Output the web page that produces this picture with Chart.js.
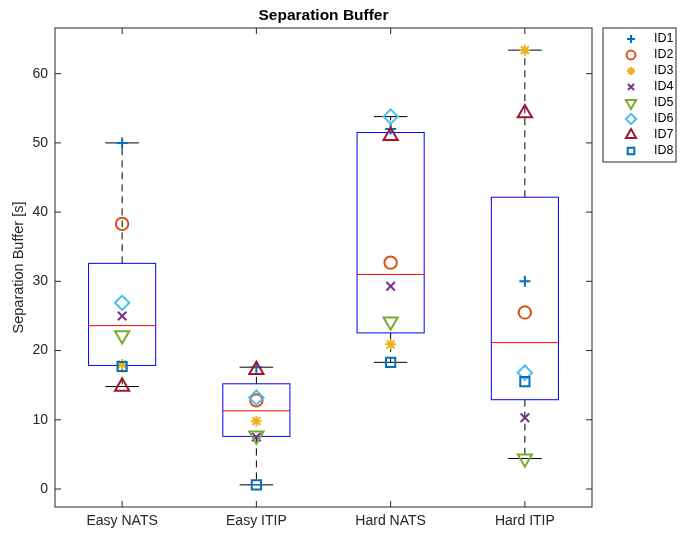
<!DOCTYPE html>
<html>
<head>
<meta charset="utf-8">
<script src="https://cdn.jsdelivr.net/npm/chart.js@4.4.0/dist/chart.umd.min.js"></script>
<style>
  body { margin: 0; background: #fff; }
  #wrap { width: 682px; height: 536px; }
</style>
</head>
<body>
<div id="wrap"><canvas id="chart" width="682" height="536"></canvas></div>
<script>
// --- data ---
const categories = ['Easy NATS', 'Easy ITIP', 'Hard NATS', 'Hard ITIP'];
const id1 = [50.0, 17.6, 52.0, 30.0];
const id2 = [38.3, 12.8, 32.7, 25.5];
const id3 = [18.0, 9.8, 20.9, 63.4];
const id4 = [25.0, 7.5, 29.3, 10.3];
const id5 = [22.2, 7.7, 24.2, 4.4];
const id6 = [26.9, 13.2, 53.8, 16.8];
const id7 = [14.8, 17.2, 51.0, 54.3];
const id8 = [17.7, 0.6, 18.3, 15.5];
const yTicks = [0, 10, 20, 30, 40, 50, 60];
const yMin = -2.6, yMax = 66.6;

const idNames = ['ID1', 'ID2', 'ID3', 'ID4', 'ID5', 'ID6', 'ID7', 'ID8'];
const idValues = [id1, id2, id3, id4, id5, id6, id7, id8];
const idColors = ['#0072BD', '#D95319', '#EDB120', '#7E2F8E', '#77AC30', '#4DBEEE', '#A2142F', '#0072BD'];
const idStyles = ['cross', 'circle', 'star', 'crossRot', 'triangle', 'rectRot', 'triangle', 'rect'];
const idRotation = [0, 0, 0, 0, 180, 0, 0, 0];
const idRadius = [5.5, 6.2, 5.5, 6, 8.2, 7.2, 8.2, 6.5];

const FONT = "'Liberation Sans', Arial, Helvetica, sans-serif";
const AXIS_COLOR = '#262626';

// MATLAB style percentile (prctile)
function prctile(sorted, p) {
    const n = sorted.length;
    const pos = p / 100 * n + 0.5;
    if (pos <= 1) return sorted[0];
    if (pos >= n) return sorted[n - 1];
    const lo = Math.floor(pos);
    return sorted[lo - 1] + (pos - lo) * (sorted[lo] - sorted[lo - 1]);
}

function boxStats(vals) {
    const s = vals.slice().sort((a, b) => a - b);
    const q1 = prctile(s, 25), med = prctile(s, 50), q3 = prctile(s, 75);
    const iqr = q3 - q1;
    const inside = s.filter(v => v >= q1 - 1.5 * iqr && v <= q3 + 1.5 * iqr);
    return { q1, med, q3, lo: inside[0], hi: inside[inside.length - 1],
             out: s.filter(v => !inside.includes(v)) };
}

function seg(ctx, x1, y1, x2, y2) {
    ctx.beginPath();
    ctx.moveTo(x1, y1);
    ctx.lineTo(x2, y2);
    ctx.stroke();
}

// box + whiskers, under the markers
const boxPlot = {
    id: 'boxPlot',
    beforeDatasetsDraw(chart) {
        const { ctx, scales: { x, y } } = chart;
        ctx.save();
        ctx.lineWidth = 1;
        categories.forEach((c, i) => {
            const st = boxStats(idValues.map(a => a[i]));
            const cx = x.getPixelForValue(i + 1);
            const hw = x.getPixelForValue(i + 1.25) - cx;
            const cw = hw / 2;
            // whiskers
            ctx.strokeStyle = '#000';
            ctx.setLineDash([7, 5]);
            seg(ctx, cx, y.getPixelForValue(st.q3), cx, y.getPixelForValue(st.hi));
            seg(ctx, cx, y.getPixelForValue(st.q1), cx, y.getPixelForValue(st.lo));
            ctx.setLineDash([]);
            seg(ctx, cx - cw, y.getPixelForValue(st.hi), cx + cw, y.getPixelForValue(st.hi));
            seg(ctx, cx - cw, y.getPixelForValue(st.lo), cx + cw, y.getPixelForValue(st.lo));
            // box
            ctx.strokeStyle = '#0000FF';
            const top = y.getPixelForValue(st.q3), bot = y.getPixelForValue(st.q1);
            ctx.strokeRect(cx - hw, top, 2 * hw, bot - top);
            // median
            ctx.strokeStyle = '#FF0000';
            seg(ctx, cx - hw, y.getPixelForValue(st.med), cx + hw, y.getPixelForValue(st.med));
            // outliers
            st.out.forEach(v => {
                const py = y.getPixelForValue(v);
                seg(ctx, cx - 4, py, cx + 4, py);
                seg(ctx, cx, py - 4, cx, py + 4);
            });
        });
        ctx.restore();
    }
};

// axes box with inward ticks, and the legend box
const frame = {
    id: 'frame',
    afterDraw(chart) {
        const { ctx, chartArea: a, scales: { x, y } } = chart;
        ctx.save();
        ctx.strokeStyle = AXIS_COLOR;
        ctx.lineWidth = 1;
        ctx.strokeRect(a.left, a.top, a.right - a.left, a.bottom - a.top);
        const tl = 6;
        yTicks.forEach(v => {
            const py = y.getPixelForValue(v);
            seg(ctx, a.left, py, a.left + tl, py);
            seg(ctx, a.right, py, a.right - tl, py);
        });
        categories.forEach((c, i) => {
            const px = x.getPixelForValue(i + 1);
            seg(ctx, px, a.bottom, px, a.bottom - tl);
            seg(ctx, px, a.top, px, a.top + tl);
        });

        // legend
        const left = a.right + 11, top = a.top, w = 73, rowH = 16;
        const h = idNames.length * rowH + 6;
        ctx.fillStyle = '#fff';
        ctx.fillRect(left, top, w, h);
        ctx.strokeStyle = AXIS_COLOR;
        ctx.strokeRect(left, top, w, h);
        ctx.font = '12.5px ' + FONT;
        ctx.textBaseline = 'middle';
        ctx.textAlign = 'left';
        idNames.forEach((name, i) => {
            const ry = top + 11 + i * rowH;
            ctx.strokeStyle = idColors[i];
            ctx.fillStyle = 'rgba(0,0,0,0)';
            ctx.lineWidth = 2;
            Chart.helpers.drawPoint(ctx, {
                pointStyle: idStyles[i], rotation: idRotation[i],
                radius: idRadius[i] * 0.72, borderWidth: 2
            }, left + 28, ry);
            ctx.fillStyle = '#000';
            ctx.fillText(name, left + 51, ry);
        });
        ctx.restore();
    }
};

const datasets = idNames.map((name, k) => ({
    label: name,
    data: idValues[k].map((v, i) => ({ x: i + 1, y: v })),
    pointStyle: idStyles[k],
    pointRotation: idRotation[k],
    pointRadius: idRadius[k],
    pointBorderWidth: 2,
    borderColor: idColors[k],
    backgroundColor: 'rgba(0,0,0,0)',
    order: idNames.length - k
}));

new Chart(document.getElementById('chart'), {
    type: 'scatter',
    data: { datasets },
    options: {
        responsive: false,
        animation: false,
        events: [],
        layout: { padding: { left: 0, right: 90, top: 0, bottom: 0 } },
        plugins: {
            legend: { display: false },
            tooltip: { enabled: false },
            title: {
                display: true, text: 'Separation Buffer', fullSize: false, color: '#000',
                font: { family: FONT, size: 15.5, weight: 'bold' },
                padding: { top: 6, bottom: 3.4 }
            }
        },
        scales: {
            x: {
                type: 'linear', min: 0.5, max: 4.5,
                grid: { display: false, drawTicks: false },
                border: { display: false },
                afterBuildTicks: s => { s.ticks = categories.map((c, i) => ({ value: i + 1 })); },
                afterFit: s => { s.height = 29; },
                ticks: {
                    callback: v => categories[Math.round(v) - 1] || '',
                    autoSkip: false, maxRotation: 0, padding: 6,
                    color: AXIS_COLOR, font: { family: FONT, size: 14 }
                }
            },
            y: {
                min: yMin, max: yMax,
                grid: { display: false, drawTicks: false },
                border: { display: false },
                afterBuildTicks: s => { s.ticks = yTicks.map(v => ({ value: v })); },
                afterFit: s => { s.width = 55; },
                ticks: { padding: 7, color: AXIS_COLOR, font: { family: FONT, size: 14 } },
                title: {
                    display: true, text: 'Separation Buffer [s]', color: AXIS_COLOR,
                    font: { family: FONT, size: 14.5 }, padding: { top: 10, bottom: 0 }
                }
            }
        }
    },
    plugins: [boxPlot, frame]
});
</script>
</body>
</html>
